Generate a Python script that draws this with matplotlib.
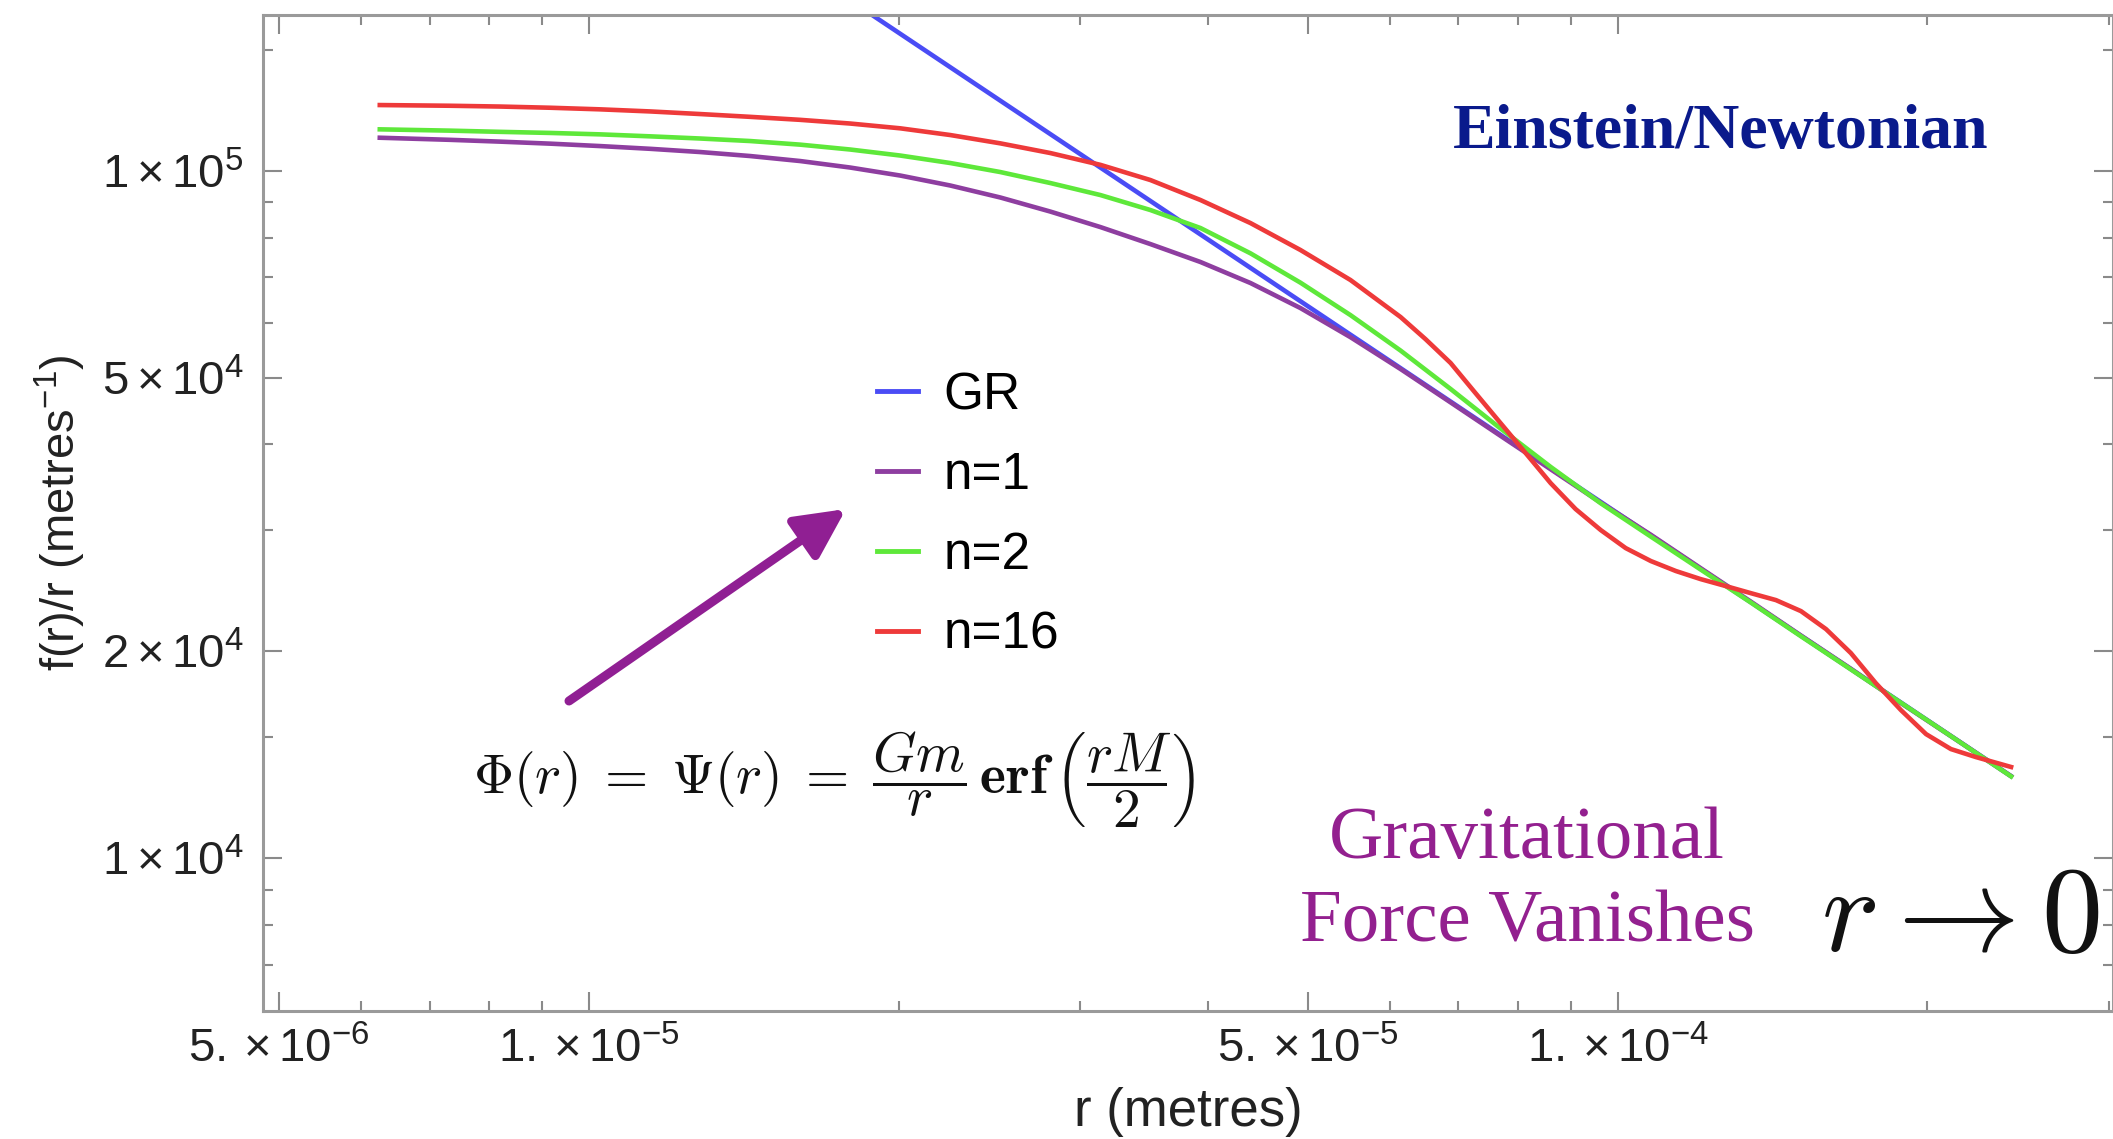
import matplotlib
matplotlib.use("Agg")

import matplotlib.pyplot as plt

# radius grid (metres)
r_grid = [6.26e-6, 7.32e-6, 8.19e-6, 9.17e-6, 1.025e-5, 1.147e-5, 1.282e-5,
          1.434e-5, 1.604e-5, 1.794e-5, 2.007e-5, 2.245e-5, 2.511e-5, 2.808e-5,
          3.141e-5, 3.513e-5, 3.930e-5, 4.395e-5, 4.916e-5, 5.498e-5, 6.150e-5,
          6.879e-5, 7.692e-5, 8.605e-5, 9.627e-5, 1.077e-4, 1.204e-4, 1.347e-4,
          1.507e-4, 1.685e-4, 1.885e-4, 2.108e-4, 2.412e-4]

# f(r)/r in metres^-1
n1_vals = [1.1181e5, 1.1103e5, 1.1036e5, 1.0961e5, 1.0873e5, 1.0773e5, 1.0658e5,
           1.0516e5, 1.0341e5, 1.0118e5, 9.850e4, 9.526e4, 9.151e4, 8.730e4,
           8.288e4, 7.829e4, 7.372e4, 6.871e4, 6.317e4, 5.730e4, 5.150e4,
           4.605e4, 4.117e4, 3.681e4, 3.291e4, 2.955e4, 2.642e4, 2.362e4,
           2.108e4, 1.886e4, 1.681e4, 1.505e4, 1.316e4]
n2_vals = [1.1500e5, 1.1450e5, 1.1404e5, 1.1362e5, 1.1308e5, 1.1233e5, 1.1152e5,
           1.1058e5, 1.0925e5, 1.0748e5, 1.0533e5, 1.0272e5, 9.966e4, 9.606e4,
           9.227e4, 8.775e4, 8.261e4, 7.590e4, 6.878e4, 6.170e4, 5.479e4,
           4.817e4, 4.220e4, 3.710e4, 3.284e4, 2.937e4, 2.630e4, 2.355e4,
           2.103e4, 1.882e4, 1.683e4, 1.505e4, 1.315e4]

# n=16 wiggles, so it was read on a finer grid
r_n16 = [6.26e-6, 7.32e-6, 8.19e-6, 9.17e-6, 1.025e-5, 1.147e-5, 1.282e-5,
         1.434e-5, 1.604e-5, 1.794e-5, 2.007e-5, 2.245e-5, 2.511e-5, 2.808e-5,
         3.141e-5, 3.513e-5, 3.930e-5, 4.395e-5, 4.916e-5, 5.498e-5, 6.150e-5,
         6.504e-5, 6.879e-5, 7.273e-5, 7.692e-5, 8.137e-5, 8.605e-5, 9.10e-5,
         9.627e-5, 1.018e-4, 1.077e-4, 1.139e-4, 1.204e-4, 1.274e-4, 1.347e-4,
         1.425e-4, 1.507e-4, 1.594e-4, 1.685e-4, 1.782e-4, 1.885e-4, 1.994e-4,
         2.108e-4, 2.229e-4, 2.412e-4]
n16_vals = [1.2475e5, 1.2446e5, 1.2413e5, 1.2363e5, 1.2297e5, 1.2211e5, 1.2105e5,
            1.1992e5, 1.1872e5, 1.1726e5, 1.1539e5, 1.1282e5, 1.0972e5, 1.0622e5,
            1.0210e5, 9.703e4, 9.074e4, 8.400e4, 7.674e4, 6.940e4, 6.131e4,
            5.692e4, 5.255e4, 4.751e4, 4.297e4, 3.886e4, 3.514e4, 3.221e4,
            3.002e4, 2.826e4, 2.706e4, 2.617e4, 2.547e4, 2.488e4, 2.430e4,
            2.374e4, 2.288e4, 2.154e4, 1.988e4, 1.797e4, 1.642e4, 1.515e4,
            1.441e4, 1.403e4, 1.357e4]

# GR is a straight line in log-log
gr_r = [1.87e-5, 2.41e-4]
gr_vals = [1.70e5, 1.317e4]

xticks_major = [5e-6, 1e-5, 5e-5, 1e-4]
xtick_labels = [r"$5.\times10^{-6}$", r"$1.\times10^{-5}$",
                r"$5.\times10^{-5}$", r"$1.\times10^{-4}$"]
xticks_minor = [6e-6, 7e-6, 8e-6, 9e-6, 2e-5, 3e-5, 4e-5, 6e-5, 7e-5,
                8e-5, 9e-5, 2e-4, 3e-4]
yticks_major = [1e4, 2e4, 5e4, 1e5]
ytick_labels = [r"$1\times10^{4}$", r"$2\times10^{4}$",
                r"$5\times10^{4}$", r"$1\times10^{5}$"]
yticks_minor = [7e3, 8e3, 9e3, 1.5e4, 3e4, 4e4, 6e4, 7e4, 8e4, 9e4, 1.5e5]

plt.rcParams["font.family"] = ["Liberation Sans", "DejaVu Sans"]
plt.rcParams["mathtext.fontset"] = "custom"
plt.rcParams["mathtext.rm"] = "Liberation Sans"
plt.rcParams["mathtext.it"] = "Liberation Sans:italic"
plt.rcParams["mathtext.bf"] = "Liberation Sans:bold"

W, H = 2113, 1139
fig = plt.figure(figsize=(W / 100, H / 100), dpi=100)
ax = fig.add_axes([263 / W, 1 - 1011 / H, (W - 263) / W, (1011 - 15) / H])

LW = 3.3
ax.plot(gr_r, gr_vals, color="#4a4cf5", lw=LW, label="GR")
ax.plot(r_grid, n1_vals, color="#8e3ea0", lw=LW, label="n=1")
ax.plot(r_grid, n2_vals, color="#5ee83a", lw=LW, label="n=2")
ax.plot(r_n16, n16_vals, color="#ee3a3a", lw=LW, label="n=16")

ax.set_xscale("log")
ax.set_yscale("log")
ax.set_xlim(4.82e-6, 3.03e-4)
ax.set_ylim(5.99e3, 1.687e5)

ax.set_xticks(xticks_major)
ax.set_xticklabels(xtick_labels)
ax.set_xticks(xticks_minor, minor=True)
ax.set_xticklabels([], minor=True)
ax.set_yticks(yticks_major)
ax.set_yticklabels(ytick_labels)
ax.set_yticks(yticks_minor, minor=True)
ax.set_yticklabels([], minor=True)

ax.tick_params(which="both", direction="in", top=True, right=True,
               color="#8a8a8a", width=1.5, labelcolor="#222222", labelsize=34)
ax.tick_params(which="major", length=14)
ax.tick_params(which="minor", length=7)
ax.tick_params(axis="x", pad=12)
ax.tick_params(axis="y", pad=14)
for s in ax.spines.values():
    s.set_color("#9a9a9a")
    s.set_linewidth(2.2)

ax.set_xlabel("r (metres)", fontsize=38, color="#222222", labelpad=10)
ax.set_ylabel(r"f(r)/r (metres$^{-1}$)", fontsize=34, color="#222222", labelpad=10)

leg = ax.legend(loc="upper left", bbox_to_anchor=(877 / W, 1 - 371 / H),
                bbox_transform=fig.transFigure, frameon=False, fontsize=37,
                handlelength=0.8, handletextpad=0.5, labelspacing=0.6,
                borderpad=0, borderaxespad=0)
for line in leg.get_lines():
    line.set_linewidth(3.5)

fig.text(0.8145, 0.870, "Einstein/Newtonian", fontsize=46, fontweight="bold",
         family="Liberation Serif", color="#0a1a8c", ha="center", va="baseline")
fig.text(0.7227, 0.2467, "Gravitational", fontsize=54,
         family="Liberation Serif", color="#93208f", ha="center", va="baseline")
fig.text(0.7227, 0.1738, "Force Vanishes", fontsize=54,
         family="Liberation Serif", color="#93208f", ha="center", va="baseline")
fig.text(0.9276, 0.165, r"$r \rightarrow 0$", fontsize=88, math_fontfamily="cm",
         color="#111111", ha="center", va="baseline")
fig.text(0.395, 0.315,
         r"$\Phi(r) \;=\; \Psi(r) \;=\; \dfrac{Gm}{r}\,\mathbf{erf}\,\left(\dfrac{rM}{2}\right)$",
         fontsize=40, math_fontfamily="cm", color="#111111", ha="center", va="center")

ax.annotate("", xy=(846 / W, 1 - 509 / H), xytext=(569 / W, 1 - 701 / H),
            xycoords="figure fraction", textcoords="figure fraction",
            arrowprops=dict(arrowstyle="-|>,head_length=1.5,head_width=0.75",
                            mutation_scale=20, lw=6.5, color="#901f93",
                            shrinkA=0, shrinkB=0))

fig.savefig("out.png", dpi=100)
